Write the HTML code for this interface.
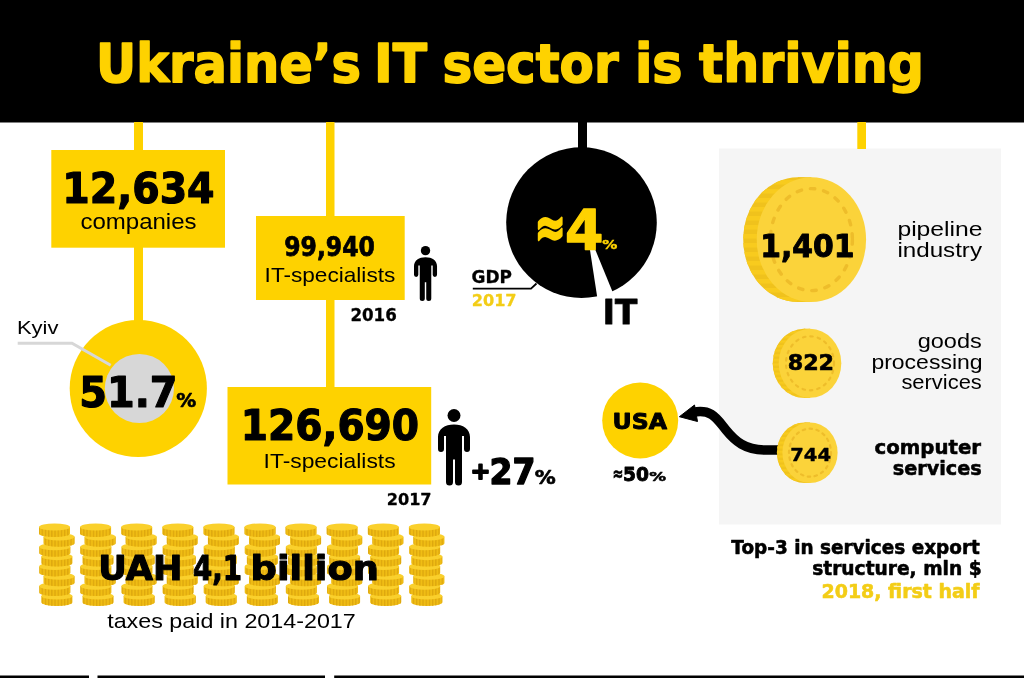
<!DOCTYPE html><html><head><meta charset="utf-8"><title>Ukraine’s IT sector is thriving</title><style>html,body{margin:0;padding:0;background:#fff;width:1024px;height:678px;overflow:hidden}svg{display:block;will-change:transform} text{font-family:'Liberation Sans', sans-serif}</style></head><body>
<svg width="1024" height="678" viewBox="0 0 1024 678">
<defs><pattern id="ridgeV" width="10" height="9" patternUnits="userSpaceOnUse"><rect width="10" height="4.5" fill="#F8CB1E"/></pattern><pattern id="ridgeV2" width="10" height="4.6" patternUnits="userSpaceOnUse"><rect width="10" height="2.3" fill="#F8CB1E"/></pattern><pattern id="ridgeS" width="3.2" height="10" patternUnits="userSpaceOnUse"><rect x="0" width="1.3" height="10" fill="#DDA70E"/></pattern></defs>
<rect width="1024" height="678" fill="#fff"/>
<rect x="719" y="148.5" width="282" height="376" fill="#F5F5F5"/>
<rect x="0" y="0" width="1024" height="122.5" fill="#000"/>
<text x="96.0" y="81.5" font-size="53.79" font-weight="bold" fill="#FED200" style="font-family:'DejaVu Sans','Liberation Sans',sans-serif" textLength="265.0" lengthAdjust="spacingAndGlyphs" stroke="#FED200" stroke-width="1.60" stroke-linejoin="round" paint-order="stroke">Ukraine’s</text>
<text x="374.0" y="81.5" font-size="53.79" font-weight="bold" fill="#FED200" style="font-family:'DejaVu Sans','Liberation Sans',sans-serif" textLength="53.0" lengthAdjust="spacingAndGlyphs" stroke="#FED200" stroke-width="1.60" stroke-linejoin="round" paint-order="stroke">IT</text>
<text x="442.4" y="81.5" font-size="53.79" font-weight="bold" fill="#FED200" style="font-family:'DejaVu Sans','Liberation Sans',sans-serif" textLength="176.2" lengthAdjust="spacingAndGlyphs" stroke="#FED200" stroke-width="1.60" stroke-linejoin="round" paint-order="stroke">sector</text>
<text x="634.9" y="81.5" font-size="53.79" font-weight="bold" fill="#FED200" style="font-family:'DejaVu Sans','Liberation Sans',sans-serif" textLength="47.6" lengthAdjust="spacingAndGlyphs" stroke="#FED200" stroke-width="1.60" stroke-linejoin="round" paint-order="stroke">is</text>
<text x="699.0" y="81.5" font-size="53.79" font-weight="bold" fill="#FED200" style="font-family:'DejaVu Sans','Liberation Sans',sans-serif" textLength="225.0" lengthAdjust="spacingAndGlyphs" stroke="#FED200" stroke-width="1.60" stroke-linejoin="round" paint-order="stroke">thriving</text>
<rect x="134" y="122" width="9" height="230" fill="#FED200"/>
<rect x="326" y="122" width="8.5" height="266" fill="#FED200"/>
<rect x="578" y="121" width="9" height="30" fill="#000"/>
<rect x="857.3" y="122" width="8.7" height="27" fill="#FED200"/>
<rect x="51.3" y="150" width="173.7" height="97.7" fill="#FED200"/>
<text x="62.2" y="202.5" font-size="43.41" font-weight="bold" fill="#000000" style="font-family:'DejaVu Sans','Liberation Sans',sans-serif" textLength="152.4" lengthAdjust="spacingAndGlyphs" stroke="#000000" stroke-width="1.20" stroke-linejoin="round" paint-order="stroke">12,634</text>
<text x="80.4" y="229.4" font-size="21.60" font-weight="normal" fill="#000000" textLength="116.2" lengthAdjust="spacingAndGlyphs">companies</text>
<circle cx="138.3" cy="388.5" r="68.6" fill="#FED200"/>
<circle cx="139.4" cy="388.5" r="34.6" fill="#D7D7D7"/>
<polyline points="17.7,343.2 72,343.2 110.7,365.3" fill="none" stroke="#D7D7D7" stroke-width="3"/>
<text x="16.9" y="333.9" font-size="18.80" font-weight="normal" fill="#000000" textLength="41.6" lengthAdjust="spacingAndGlyphs">Kyiv</text>
<text x="79.3" y="407.3" font-size="42.47" font-weight="bold" fill="#000000" style="font-family:'DejaVu Sans','Liberation Sans',sans-serif" textLength="98.3" lengthAdjust="spacingAndGlyphs" stroke="#000000" stroke-width="1.20" stroke-linejoin="round" paint-order="stroke">51.7</text>
<text x="176.2" y="407.3" font-size="18.88" font-weight="bold" fill="#000000" style="font-family:'DejaVu Sans','Liberation Sans',sans-serif" textLength="20.0" lengthAdjust="spacingAndGlyphs" stroke="#000000" stroke-width="0.60" stroke-linejoin="round" paint-order="stroke">%</text>
<rect x="256" y="216" width="148.7" height="84" fill="#FED200"/>
<text x="284.2" y="255.8" font-size="26.14" font-weight="bold" fill="#000000" style="font-family:'DejaVu Sans','Liberation Sans',sans-serif" textLength="90.8" lengthAdjust="spacingAndGlyphs" stroke="#000000" stroke-width="0.75" stroke-linejoin="round" paint-order="stroke">99,940</text>
<text x="264.6" y="282.4" font-size="21.00" font-weight="normal" fill="#000000" textLength="130.7" lengthAdjust="spacingAndGlyphs">IT-specialists</text>
<g transform="translate(414,246) scale(0.72)" fill="#000"><circle cx="16" cy="6.5" r="6.5"/><path d="M0,40 V28 C0,20 7,15.5 16,15.5 C25,15.5 32,20 32,28 V40 A3,3 0 0 1 26,40 V27 L24,27 V73 A3.5,3.5 0 0 1 17,73 V50.5 H15 V73 A3.5,3.5 0 0 1 8,73 V27 L6,27 V40 A3,3 0 0 1 0,40 Z"/></g>
<text x="350.4" y="321.0" font-size="17.27" font-weight="bold" fill="#000000" style="font-family:'DejaVu Sans','Liberation Sans',sans-serif" textLength="46.4" lengthAdjust="spacingAndGlyphs" stroke="#000000" stroke-width="0.30" stroke-linejoin="round" paint-order="stroke">2016</text>
<rect x="227.5" y="387" width="203.7" height="97.5" fill="#FED200"/>
<text x="240.8" y="440.0" font-size="42.94" font-weight="bold" fill="#000000" style="font-family:'DejaVu Sans','Liberation Sans',sans-serif" textLength="178.3" lengthAdjust="spacingAndGlyphs" stroke="#000000" stroke-width="1.20" stroke-linejoin="round" paint-order="stroke">126,690</text>
<text x="263.6" y="467.5" font-size="21.00" font-weight="normal" fill="#000000" textLength="132.0" lengthAdjust="spacingAndGlyphs">IT-specialists</text>
<g transform="translate(438,409) scale(1.0)" fill="#000"><circle cx="16" cy="6.5" r="6.5"/><path d="M0,40 V28 C0,20 7,15.5 16,15.5 C25,15.5 32,20 32,28 V40 A3,3 0 0 1 26,40 V27 L24,27 V73 A3.5,3.5 0 0 1 17,73 V50.5 H15 V73 A3.5,3.5 0 0 1 8,73 V27 L6,27 V40 A3,3 0 0 1 0,40 Z"/></g>
<text x="470.5" y="479.4" font-size="23.59" font-weight="bold" fill="#000000" style="font-family:'DejaVu Sans','Liberation Sans',sans-serif" textLength="20.0" lengthAdjust="spacingAndGlyphs" stroke="#000000" stroke-width="1.80" stroke-linejoin="round" paint-order="stroke">+</text>
<text x="489.6" y="484.0" font-size="34.92" font-weight="bold" fill="#000000" style="font-family:'DejaVu Sans','Liberation Sans',sans-serif" textLength="45.9" lengthAdjust="spacingAndGlyphs" stroke="#000000" stroke-width="1.40" stroke-linejoin="round" paint-order="stroke">27</text>
<text x="534.8" y="484.0" font-size="19.82" font-weight="bold" fill="#000000" style="font-family:'DejaVu Sans','Liberation Sans',sans-serif" textLength="21.0" lengthAdjust="spacingAndGlyphs" stroke="#000000" stroke-width="0.65" stroke-linejoin="round" paint-order="stroke">%</text>
<text x="386.7" y="505.0" font-size="16.52" font-weight="bold" fill="#000000" style="font-family:'DejaVu Sans','Liberation Sans',sans-serif" textLength="44.9" lengthAdjust="spacingAndGlyphs" stroke="#000000" stroke-width="0.30" stroke-linejoin="round" paint-order="stroke">2017</text>
<circle cx="581.5" cy="222.6" r="75.3" fill="#000"/>
<path d="M589.9,249.5 L595.2,249.5 L620,310 L599.2,310 Z" fill="#fff"/>
<text x="534.7" y="246.2" font-size="54.74" font-weight="bold" fill="#FED200" style="font-family:'DejaVu Sans','Liberation Sans',sans-serif" textLength="30.9" lengthAdjust="spacingAndGlyphs" stroke="#FED200" stroke-width="2.50" stroke-linejoin="round" paint-order="stroke">≈</text>
<text x="565.1" y="248.8" font-size="54.74" font-weight="bold" fill="#FED200" style="font-family:'DejaVu Sans','Liberation Sans',sans-serif" textLength="38.5" lengthAdjust="spacingAndGlyphs" stroke="#FED200" stroke-width="1.30" stroke-linejoin="round" paint-order="stroke">4</text>
<text x="602.3" y="248.8" font-size="12.74" font-weight="bold" fill="#FED200" style="font-family:'DejaVu Sans','Liberation Sans',sans-serif" textLength="15.1" lengthAdjust="spacingAndGlyphs" stroke="#FED200" stroke-width="0.45" stroke-linejoin="round" paint-order="stroke">%</text>
<text x="471.6" y="283.3" font-size="17.18" font-weight="bold" fill="#000000" style="font-family:'DejaVu Sans','Liberation Sans',sans-serif" textLength="40.4" lengthAdjust="spacingAndGlyphs" stroke="#000000" stroke-width="0.30" stroke-linejoin="round" paint-order="stroke">GDP</text>
<polyline points="472.8,288.7 531,288.7 536.5,283.5" fill="none" stroke="#000" stroke-width="1.8"/>
<text x="471.7" y="306.0" font-size="16.04" font-weight="bold" fill="#F3CD16" style="font-family:'DejaVu Sans','Liberation Sans',sans-serif" textLength="44.9" lengthAdjust="spacingAndGlyphs" stroke="#F3CD16" stroke-width="0.30" stroke-linejoin="round" paint-order="stroke">2017</text>
<text x="602.8" y="324.2" font-size="33.98" font-weight="bold" fill="#000000" style="font-family:'DejaVu Sans','Liberation Sans',sans-serif" textLength="34.4" lengthAdjust="spacingAndGlyphs" stroke="#000000" stroke-width="1.00" stroke-linejoin="round" paint-order="stroke">IT</text>
<ellipse cx="797.9" cy="239.6" rx="54.7" ry="62.4" fill="#F0C21C"/>
<ellipse cx="797.9" cy="239.6" rx="54.7" ry="62.4" fill="url(#ridgeV)"/>
<rect x="797.9" y="177.2" width="13.5" height="124.8" fill="#F0C21C"/>
<rect x="797.9" y="177.2" width="13.5" height="124.8" fill="url(#ridgeV)"/>
<ellipse cx="811.4" cy="239.6" rx="54.7" ry="62.4" fill="#FBD33A"/>
<ellipse cx="811.4" cy="239.6" rx="41" ry="51" fill="none" stroke="#EEBD2A" stroke-width="3.4" stroke-dasharray="4.5 9" stroke-linecap="round"/>
<text x="760.3" y="256.7" font-size="32.47" font-weight="bold" fill="#000000" style="font-family:'DejaVu Sans','Liberation Sans',sans-serif" textLength="94.3" lengthAdjust="spacingAndGlyphs" stroke="#000000" stroke-width="1.00" stroke-linejoin="round" paint-order="stroke">1,401</text>
<text x="897.4" y="236.0" font-size="20.80" font-weight="normal" fill="#000000" textLength="85.2" lengthAdjust="spacingAndGlyphs">pipeline</text>
<text x="897.4" y="256.5" font-size="20.80" font-weight="normal" fill="#000000" textLength="84.6" lengthAdjust="spacingAndGlyphs">industry</text>
<ellipse cx="804" cy="363.3" rx="31.3" ry="34.5" fill="#F0C21C"/>
<ellipse cx="804" cy="363.3" rx="31.3" ry="34.5" fill="url(#ridgeV2)"/>
<rect x="804" y="328.8" width="6" height="69.0" fill="#F0C21C"/>
<rect x="804" y="328.8" width="6" height="69.0" fill="url(#ridgeV2)"/>
<ellipse cx="810" cy="363.3" rx="31.3" ry="34.5" fill="#FBD33A"/>
<ellipse cx="810" cy="363.3" rx="24" ry="27" fill="none" stroke="#EEBD2A" stroke-width="2.2" stroke-dasharray="2.5 5" stroke-linecap="round"/>
<text x="787.7" y="369.5" font-size="21.71" font-weight="bold" fill="#000000" style="font-family:'DejaVu Sans','Liberation Sans',sans-serif" textLength="46.4" lengthAdjust="spacingAndGlyphs" stroke="#000000" stroke-width="0.65" stroke-linejoin="round" paint-order="stroke">822</text>
<text x="917.7" y="347.6" font-size="20.80" font-weight="normal" fill="#000000" textLength="64.1" lengthAdjust="spacingAndGlyphs">goods</text>
<text x="871.4" y="368.8" font-size="20.80" font-weight="normal" fill="#000000" textLength="111.2" lengthAdjust="spacingAndGlyphs">processing</text>
<text x="901.4" y="389.3" font-size="20.80" font-weight="normal" fill="#000000" textLength="80.4" lengthAdjust="spacingAndGlyphs">services</text>
<path d="M693,412.3 C712,408.5 717,419 726,430 C735,441 745,450 765,450 H782" fill="none" stroke="#000" stroke-width="9.4"/>
<path d="M679.4,416.7 L694.5,405 L697.5,421.5 Z" fill="#000" stroke="#000" stroke-width="1" stroke-linejoin="round"/>
<ellipse cx="804.5" cy="452.7" rx="27.6" ry="30.3" fill="#F0C21C"/>
<ellipse cx="804.5" cy="452.7" rx="27.6" ry="30.3" fill="url(#ridgeV2)"/>
<rect x="804.5" y="422.4" width="5.5" height="60.6" fill="#F0C21C"/>
<rect x="804.5" y="422.4" width="5.5" height="60.6" fill="url(#ridgeV2)"/>
<ellipse cx="810" cy="452.7" rx="27.6" ry="30.3" fill="#FBD33A"/>
<ellipse cx="810" cy="452.7" rx="21" ry="24" fill="none" stroke="#EEBD2A" stroke-width="2.2" stroke-dasharray="2.5 4.5" stroke-linecap="round"/>
<text x="790.2" y="460.9" font-size="17.93" font-weight="bold" fill="#000000" style="font-family:'DejaVu Sans','Liberation Sans',sans-serif" textLength="40.8" lengthAdjust="spacingAndGlyphs" stroke="#000000" stroke-width="0.40" stroke-linejoin="round" paint-order="stroke">744</text>
<text x="874.5" y="454.4" font-size="19.63" font-weight="bold" fill="#000000" style="font-family:'DejaVu Sans','Liberation Sans',sans-serif" textLength="106.5" lengthAdjust="spacingAndGlyphs" stroke="#000000" stroke-width="0.55" stroke-linejoin="round" paint-order="stroke">computer</text>
<text x="892.7" y="474.9" font-size="19.63" font-weight="bold" fill="#000000" style="font-family:'DejaVu Sans','Liberation Sans',sans-serif" textLength="89.1" lengthAdjust="spacingAndGlyphs" stroke="#000000" stroke-width="0.55" stroke-linejoin="round" paint-order="stroke">services</text>
<circle cx="640.2" cy="420.5" r="38" fill="#FED200"/>
<text x="612.6" y="429.0" font-size="21.99" font-weight="bold" fill="#000000" style="font-family:'DejaVu Sans','Liberation Sans',sans-serif" textLength="54.4" lengthAdjust="spacingAndGlyphs" stroke="#000000" stroke-width="0.95" stroke-linejoin="round" paint-order="stroke">USA</text>
<text x="612.6" y="479.8" font-size="18.88" font-weight="bold" fill="#000000" style="font-family:'DejaVu Sans','Liberation Sans',sans-serif" textLength="10.9" lengthAdjust="spacingAndGlyphs" stroke="#000000" stroke-width="0.60" stroke-linejoin="round" paint-order="stroke">≈</text>
<text x="623.0" y="480.8" font-size="19.16" font-weight="bold" fill="#000000" style="font-family:'DejaVu Sans','Liberation Sans',sans-serif" textLength="26.0" lengthAdjust="spacingAndGlyphs" stroke="#000000" stroke-width="0.85" stroke-linejoin="round" paint-order="stroke">50</text>
<text x="649.2" y="480.8" font-size="12.84" font-weight="bold" fill="#000000" style="font-family:'DejaVu Sans','Liberation Sans',sans-serif" textLength="16.8" lengthAdjust="spacingAndGlyphs" stroke="#000000" stroke-width="0.50" stroke-linejoin="round" paint-order="stroke">%</text>
<text x="731.3" y="553.7" font-size="18.88" font-weight="bold" fill="#000000" style="font-family:'DejaVu Sans','Liberation Sans',sans-serif" textLength="248.5" lengthAdjust="spacingAndGlyphs" stroke="#000000" stroke-width="0.55" stroke-linejoin="round" paint-order="stroke">Top-3 in services export</text>
<text x="812.2" y="574.6" font-size="18.88" font-weight="bold" fill="#000000" style="font-family:'DejaVu Sans','Liberation Sans',sans-serif" textLength="169.4" lengthAdjust="spacingAndGlyphs" stroke="#000000" stroke-width="0.55" stroke-linejoin="round" paint-order="stroke">structure, mln $</text>
<text x="821.5" y="597.7" font-size="18.88" font-weight="bold" fill="#F3CD16" style="font-family:'DejaVu Sans','Liberation Sans',sans-serif" textLength="158.1" lengthAdjust="spacingAndGlyphs" stroke="#F3CD16" stroke-width="0.55" stroke-linejoin="round" paint-order="stroke">2018, first half</text>
<path d="M41.4,595.95 V602.35 A15.5,3.6 0 0 0 72.4,602.35 V595.95 Z" fill="#F0BD14"/>
<path d="M41.4,595.95 V602.35 A15.5,3.6 0 0 0 72.4,602.35 V595.95 Z" fill="url(#ridgeS)"/>
<ellipse cx="56.9" cy="595.95" rx="15.5" ry="3.6" fill="#FAD02C"/>
<path d="M39.3,586.1 V592.5 A15.5,3.6 0 0 0 70.3,592.5 V586.1 Z" fill="#F0BD14"/>
<path d="M39.3,586.1 V592.5 A15.5,3.6 0 0 0 70.3,592.5 V586.1 Z" fill="url(#ridgeS)"/>
<ellipse cx="54.8" cy="586.1" rx="15.5" ry="3.6" fill="#FAD02C"/>
<path d="M43.5,576.25 V582.65 A15.5,3.6 0 0 0 74.5,582.65 V576.25 Z" fill="#F0BD14"/>
<path d="M43.5,576.25 V582.65 A15.5,3.6 0 0 0 74.5,582.65 V576.25 Z" fill="url(#ridgeS)"/>
<ellipse cx="59.0" cy="576.25" rx="15.5" ry="3.6" fill="#FAD02C"/>
<path d="M39.3,566.4 V572.8 A15.5,3.6 0 0 0 70.3,572.8 V566.4 Z" fill="#F0BD14"/>
<path d="M39.3,566.4 V572.8 A15.5,3.6 0 0 0 70.3,572.8 V566.4 Z" fill="url(#ridgeS)"/>
<ellipse cx="54.8" cy="566.4" rx="15.5" ry="3.6" fill="#FAD02C"/>
<path d="M41.4,556.55 V562.9499999999999 A15.5,3.6 0 0 0 72.4,562.9499999999999 V556.55 Z" fill="#F0BD14"/>
<path d="M41.4,556.55 V562.9499999999999 A15.5,3.6 0 0 0 72.4,562.9499999999999 V556.55 Z" fill="url(#ridgeS)"/>
<ellipse cx="56.9" cy="556.55" rx="15.5" ry="3.6" fill="#FAD02C"/>
<path d="M39.3,546.7 V553.1 A15.5,3.6 0 0 0 70.3,553.1 V546.7 Z" fill="#F0BD14"/>
<path d="M39.3,546.7 V553.1 A15.5,3.6 0 0 0 70.3,553.1 V546.7 Z" fill="url(#ridgeS)"/>
<ellipse cx="54.8" cy="546.7" rx="15.5" ry="3.6" fill="#FAD02C"/>
<path d="M43.5,536.85 V543.25 A15.5,3.6 0 0 0 74.5,543.25 V536.85 Z" fill="#F0BD14"/>
<path d="M43.5,536.85 V543.25 A15.5,3.6 0 0 0 74.5,543.25 V536.85 Z" fill="url(#ridgeS)"/>
<ellipse cx="59.0" cy="536.85" rx="15.5" ry="3.6" fill="#FAD02C"/>
<path d="M39.0,527.0 V533.4 A15.5,3.6 0 0 0 70.0,533.4 V527.0 Z" fill="#F0BD14"/>
<path d="M39.0,527.0 V533.4 A15.5,3.6 0 0 0 70.0,533.4 V527.0 Z" fill="url(#ridgeS)"/>
<ellipse cx="54.5" cy="527.0" rx="15.5" ry="3.6" fill="#FAD02C"/>
<path d="M82.5,595.95 V602.35 A15.5,3.6 0 0 0 113.5,602.35 V595.95 Z" fill="#F0BD14"/>
<path d="M82.5,595.95 V602.35 A15.5,3.6 0 0 0 113.5,602.35 V595.95 Z" fill="url(#ridgeS)"/>
<ellipse cx="98.0" cy="595.95" rx="15.5" ry="3.6" fill="#FAD02C"/>
<path d="M80.39999999999999,586.1 V592.5 A15.5,3.6 0 0 0 111.39999999999999,592.5 V586.1 Z" fill="#F0BD14"/>
<path d="M80.39999999999999,586.1 V592.5 A15.5,3.6 0 0 0 111.39999999999999,592.5 V586.1 Z" fill="url(#ridgeS)"/>
<ellipse cx="95.89999999999999" cy="586.1" rx="15.5" ry="3.6" fill="#FAD02C"/>
<path d="M84.6,576.25 V582.65 A15.5,3.6 0 0 0 115.6,582.65 V576.25 Z" fill="#F0BD14"/>
<path d="M84.6,576.25 V582.65 A15.5,3.6 0 0 0 115.6,582.65 V576.25 Z" fill="url(#ridgeS)"/>
<ellipse cx="100.1" cy="576.25" rx="15.5" ry="3.6" fill="#FAD02C"/>
<path d="M80.39999999999999,566.4 V572.8 A15.5,3.6 0 0 0 111.39999999999999,572.8 V566.4 Z" fill="#F0BD14"/>
<path d="M80.39999999999999,566.4 V572.8 A15.5,3.6 0 0 0 111.39999999999999,572.8 V566.4 Z" fill="url(#ridgeS)"/>
<ellipse cx="95.89999999999999" cy="566.4" rx="15.5" ry="3.6" fill="#FAD02C"/>
<path d="M82.5,556.55 V562.9499999999999 A15.5,3.6 0 0 0 113.5,562.9499999999999 V556.55 Z" fill="#F0BD14"/>
<path d="M82.5,556.55 V562.9499999999999 A15.5,3.6 0 0 0 113.5,562.9499999999999 V556.55 Z" fill="url(#ridgeS)"/>
<ellipse cx="98.0" cy="556.55" rx="15.5" ry="3.6" fill="#FAD02C"/>
<path d="M80.39999999999999,546.7 V553.1 A15.5,3.6 0 0 0 111.39999999999999,553.1 V546.7 Z" fill="#F0BD14"/>
<path d="M80.39999999999999,546.7 V553.1 A15.5,3.6 0 0 0 111.39999999999999,553.1 V546.7 Z" fill="url(#ridgeS)"/>
<ellipse cx="95.89999999999999" cy="546.7" rx="15.5" ry="3.6" fill="#FAD02C"/>
<path d="M84.6,536.85 V543.25 A15.5,3.6 0 0 0 115.6,543.25 V536.85 Z" fill="#F0BD14"/>
<path d="M84.6,536.85 V543.25 A15.5,3.6 0 0 0 115.6,543.25 V536.85 Z" fill="url(#ridgeS)"/>
<ellipse cx="100.1" cy="536.85" rx="15.5" ry="3.6" fill="#FAD02C"/>
<path d="M80.1,527.0 V533.4 A15.5,3.6 0 0 0 111.1,533.4 V527.0 Z" fill="#F0BD14"/>
<path d="M80.1,527.0 V533.4 A15.5,3.6 0 0 0 111.1,533.4 V527.0 Z" fill="url(#ridgeS)"/>
<ellipse cx="95.6" cy="527.0" rx="15.5" ry="3.6" fill="#FAD02C"/>
<path d="M123.60000000000001,595.95 V602.35 A15.5,3.6 0 0 0 154.60000000000002,602.35 V595.95 Z" fill="#F0BD14"/>
<path d="M123.60000000000001,595.95 V602.35 A15.5,3.6 0 0 0 154.60000000000002,602.35 V595.95 Z" fill="url(#ridgeS)"/>
<ellipse cx="139.10000000000002" cy="595.95" rx="15.5" ry="3.6" fill="#FAD02C"/>
<path d="M121.5,586.1 V592.5 A15.5,3.6 0 0 0 152.5,592.5 V586.1 Z" fill="#F0BD14"/>
<path d="M121.5,586.1 V592.5 A15.5,3.6 0 0 0 152.5,592.5 V586.1 Z" fill="url(#ridgeS)"/>
<ellipse cx="137.0" cy="586.1" rx="15.5" ry="3.6" fill="#FAD02C"/>
<path d="M125.7,576.25 V582.65 A15.5,3.6 0 0 0 156.7,582.65 V576.25 Z" fill="#F0BD14"/>
<path d="M125.7,576.25 V582.65 A15.5,3.6 0 0 0 156.7,582.65 V576.25 Z" fill="url(#ridgeS)"/>
<ellipse cx="141.2" cy="576.25" rx="15.5" ry="3.6" fill="#FAD02C"/>
<path d="M121.5,566.4 V572.8 A15.5,3.6 0 0 0 152.5,572.8 V566.4 Z" fill="#F0BD14"/>
<path d="M121.5,566.4 V572.8 A15.5,3.6 0 0 0 152.5,572.8 V566.4 Z" fill="url(#ridgeS)"/>
<ellipse cx="137.0" cy="566.4" rx="15.5" ry="3.6" fill="#FAD02C"/>
<path d="M123.60000000000001,556.55 V562.9499999999999 A15.5,3.6 0 0 0 154.60000000000002,562.9499999999999 V556.55 Z" fill="#F0BD14"/>
<path d="M123.60000000000001,556.55 V562.9499999999999 A15.5,3.6 0 0 0 154.60000000000002,562.9499999999999 V556.55 Z" fill="url(#ridgeS)"/>
<ellipse cx="139.10000000000002" cy="556.55" rx="15.5" ry="3.6" fill="#FAD02C"/>
<path d="M121.5,546.7 V553.1 A15.5,3.6 0 0 0 152.5,553.1 V546.7 Z" fill="#F0BD14"/>
<path d="M121.5,546.7 V553.1 A15.5,3.6 0 0 0 152.5,553.1 V546.7 Z" fill="url(#ridgeS)"/>
<ellipse cx="137.0" cy="546.7" rx="15.5" ry="3.6" fill="#FAD02C"/>
<path d="M125.7,536.85 V543.25 A15.5,3.6 0 0 0 156.7,543.25 V536.85 Z" fill="#F0BD14"/>
<path d="M125.7,536.85 V543.25 A15.5,3.6 0 0 0 156.7,543.25 V536.85 Z" fill="url(#ridgeS)"/>
<ellipse cx="141.2" cy="536.85" rx="15.5" ry="3.6" fill="#FAD02C"/>
<path d="M121.2,527.0 V533.4 A15.5,3.6 0 0 0 152.2,533.4 V527.0 Z" fill="#F0BD14"/>
<path d="M121.2,527.0 V533.4 A15.5,3.6 0 0 0 152.2,533.4 V527.0 Z" fill="url(#ridgeS)"/>
<ellipse cx="136.7" cy="527.0" rx="15.5" ry="3.6" fill="#FAD02C"/>
<path d="M164.70000000000002,595.95 V602.35 A15.5,3.6 0 0 0 195.70000000000002,602.35 V595.95 Z" fill="#F0BD14"/>
<path d="M164.70000000000002,595.95 V602.35 A15.5,3.6 0 0 0 195.70000000000002,602.35 V595.95 Z" fill="url(#ridgeS)"/>
<ellipse cx="180.20000000000002" cy="595.95" rx="15.5" ry="3.6" fill="#FAD02C"/>
<path d="M162.60000000000002,586.1 V592.5 A15.5,3.6 0 0 0 193.60000000000002,592.5 V586.1 Z" fill="#F0BD14"/>
<path d="M162.60000000000002,586.1 V592.5 A15.5,3.6 0 0 0 193.60000000000002,592.5 V586.1 Z" fill="url(#ridgeS)"/>
<ellipse cx="178.10000000000002" cy="586.1" rx="15.5" ry="3.6" fill="#FAD02C"/>
<path d="M166.8,576.25 V582.65 A15.5,3.6 0 0 0 197.8,582.65 V576.25 Z" fill="#F0BD14"/>
<path d="M166.8,576.25 V582.65 A15.5,3.6 0 0 0 197.8,582.65 V576.25 Z" fill="url(#ridgeS)"/>
<ellipse cx="182.3" cy="576.25" rx="15.5" ry="3.6" fill="#FAD02C"/>
<path d="M162.60000000000002,566.4 V572.8 A15.5,3.6 0 0 0 193.60000000000002,572.8 V566.4 Z" fill="#F0BD14"/>
<path d="M162.60000000000002,566.4 V572.8 A15.5,3.6 0 0 0 193.60000000000002,572.8 V566.4 Z" fill="url(#ridgeS)"/>
<ellipse cx="178.10000000000002" cy="566.4" rx="15.5" ry="3.6" fill="#FAD02C"/>
<path d="M164.70000000000002,556.55 V562.9499999999999 A15.5,3.6 0 0 0 195.70000000000002,562.9499999999999 V556.55 Z" fill="#F0BD14"/>
<path d="M164.70000000000002,556.55 V562.9499999999999 A15.5,3.6 0 0 0 195.70000000000002,562.9499999999999 V556.55 Z" fill="url(#ridgeS)"/>
<ellipse cx="180.20000000000002" cy="556.55" rx="15.5" ry="3.6" fill="#FAD02C"/>
<path d="M162.60000000000002,546.7 V553.1 A15.5,3.6 0 0 0 193.60000000000002,553.1 V546.7 Z" fill="#F0BD14"/>
<path d="M162.60000000000002,546.7 V553.1 A15.5,3.6 0 0 0 193.60000000000002,553.1 V546.7 Z" fill="url(#ridgeS)"/>
<ellipse cx="178.10000000000002" cy="546.7" rx="15.5" ry="3.6" fill="#FAD02C"/>
<path d="M166.8,536.85 V543.25 A15.5,3.6 0 0 0 197.8,543.25 V536.85 Z" fill="#F0BD14"/>
<path d="M166.8,536.85 V543.25 A15.5,3.6 0 0 0 197.8,543.25 V536.85 Z" fill="url(#ridgeS)"/>
<ellipse cx="182.3" cy="536.85" rx="15.5" ry="3.6" fill="#FAD02C"/>
<path d="M162.3,527.0 V533.4 A15.5,3.6 0 0 0 193.3,533.4 V527.0 Z" fill="#F0BD14"/>
<path d="M162.3,527.0 V533.4 A15.5,3.6 0 0 0 193.3,533.4 V527.0 Z" fill="url(#ridgeS)"/>
<ellipse cx="177.8" cy="527.0" rx="15.5" ry="3.6" fill="#FAD02C"/>
<path d="M205.8,595.95 V602.35 A15.5,3.6 0 0 0 236.8,602.35 V595.95 Z" fill="#F0BD14"/>
<path d="M205.8,595.95 V602.35 A15.5,3.6 0 0 0 236.8,602.35 V595.95 Z" fill="url(#ridgeS)"/>
<ellipse cx="221.3" cy="595.95" rx="15.5" ry="3.6" fill="#FAD02C"/>
<path d="M203.70000000000002,586.1 V592.5 A15.5,3.6 0 0 0 234.70000000000002,592.5 V586.1 Z" fill="#F0BD14"/>
<path d="M203.70000000000002,586.1 V592.5 A15.5,3.6 0 0 0 234.70000000000002,592.5 V586.1 Z" fill="url(#ridgeS)"/>
<ellipse cx="219.20000000000002" cy="586.1" rx="15.5" ry="3.6" fill="#FAD02C"/>
<path d="M207.9,576.25 V582.65 A15.5,3.6 0 0 0 238.9,582.65 V576.25 Z" fill="#F0BD14"/>
<path d="M207.9,576.25 V582.65 A15.5,3.6 0 0 0 238.9,582.65 V576.25 Z" fill="url(#ridgeS)"/>
<ellipse cx="223.4" cy="576.25" rx="15.5" ry="3.6" fill="#FAD02C"/>
<path d="M203.70000000000002,566.4 V572.8 A15.5,3.6 0 0 0 234.70000000000002,572.8 V566.4 Z" fill="#F0BD14"/>
<path d="M203.70000000000002,566.4 V572.8 A15.5,3.6 0 0 0 234.70000000000002,572.8 V566.4 Z" fill="url(#ridgeS)"/>
<ellipse cx="219.20000000000002" cy="566.4" rx="15.5" ry="3.6" fill="#FAD02C"/>
<path d="M205.8,556.55 V562.9499999999999 A15.5,3.6 0 0 0 236.8,562.9499999999999 V556.55 Z" fill="#F0BD14"/>
<path d="M205.8,556.55 V562.9499999999999 A15.5,3.6 0 0 0 236.8,562.9499999999999 V556.55 Z" fill="url(#ridgeS)"/>
<ellipse cx="221.3" cy="556.55" rx="15.5" ry="3.6" fill="#FAD02C"/>
<path d="M203.70000000000002,546.7 V553.1 A15.5,3.6 0 0 0 234.70000000000002,553.1 V546.7 Z" fill="#F0BD14"/>
<path d="M203.70000000000002,546.7 V553.1 A15.5,3.6 0 0 0 234.70000000000002,553.1 V546.7 Z" fill="url(#ridgeS)"/>
<ellipse cx="219.20000000000002" cy="546.7" rx="15.5" ry="3.6" fill="#FAD02C"/>
<path d="M207.9,536.85 V543.25 A15.5,3.6 0 0 0 238.9,543.25 V536.85 Z" fill="#F0BD14"/>
<path d="M207.9,536.85 V543.25 A15.5,3.6 0 0 0 238.9,543.25 V536.85 Z" fill="url(#ridgeS)"/>
<ellipse cx="223.4" cy="536.85" rx="15.5" ry="3.6" fill="#FAD02C"/>
<path d="M203.4,527.0 V533.4 A15.5,3.6 0 0 0 234.4,533.4 V527.0 Z" fill="#F0BD14"/>
<path d="M203.4,527.0 V533.4 A15.5,3.6 0 0 0 234.4,533.4 V527.0 Z" fill="url(#ridgeS)"/>
<ellipse cx="218.9" cy="527.0" rx="15.5" ry="3.6" fill="#FAD02C"/>
<path d="M246.9,595.95 V602.35 A15.5,3.6 0 0 0 277.9,602.35 V595.95 Z" fill="#F0BD14"/>
<path d="M246.9,595.95 V602.35 A15.5,3.6 0 0 0 277.9,602.35 V595.95 Z" fill="url(#ridgeS)"/>
<ellipse cx="262.4" cy="595.95" rx="15.5" ry="3.6" fill="#FAD02C"/>
<path d="M244.8,586.1 V592.5 A15.5,3.6 0 0 0 275.8,592.5 V586.1 Z" fill="#F0BD14"/>
<path d="M244.8,586.1 V592.5 A15.5,3.6 0 0 0 275.8,592.5 V586.1 Z" fill="url(#ridgeS)"/>
<ellipse cx="260.3" cy="586.1" rx="15.5" ry="3.6" fill="#FAD02C"/>
<path d="M249.0,576.25 V582.65 A15.5,3.6 0 0 0 280.0,582.65 V576.25 Z" fill="#F0BD14"/>
<path d="M249.0,576.25 V582.65 A15.5,3.6 0 0 0 280.0,582.65 V576.25 Z" fill="url(#ridgeS)"/>
<ellipse cx="264.5" cy="576.25" rx="15.5" ry="3.6" fill="#FAD02C"/>
<path d="M244.8,566.4 V572.8 A15.5,3.6 0 0 0 275.8,572.8 V566.4 Z" fill="#F0BD14"/>
<path d="M244.8,566.4 V572.8 A15.5,3.6 0 0 0 275.8,572.8 V566.4 Z" fill="url(#ridgeS)"/>
<ellipse cx="260.3" cy="566.4" rx="15.5" ry="3.6" fill="#FAD02C"/>
<path d="M246.9,556.55 V562.9499999999999 A15.5,3.6 0 0 0 277.9,562.9499999999999 V556.55 Z" fill="#F0BD14"/>
<path d="M246.9,556.55 V562.9499999999999 A15.5,3.6 0 0 0 277.9,562.9499999999999 V556.55 Z" fill="url(#ridgeS)"/>
<ellipse cx="262.4" cy="556.55" rx="15.5" ry="3.6" fill="#FAD02C"/>
<path d="M244.8,546.7 V553.1 A15.5,3.6 0 0 0 275.8,553.1 V546.7 Z" fill="#F0BD14"/>
<path d="M244.8,546.7 V553.1 A15.5,3.6 0 0 0 275.8,553.1 V546.7 Z" fill="url(#ridgeS)"/>
<ellipse cx="260.3" cy="546.7" rx="15.5" ry="3.6" fill="#FAD02C"/>
<path d="M249.0,536.85 V543.25 A15.5,3.6 0 0 0 280.0,543.25 V536.85 Z" fill="#F0BD14"/>
<path d="M249.0,536.85 V543.25 A15.5,3.6 0 0 0 280.0,543.25 V536.85 Z" fill="url(#ridgeS)"/>
<ellipse cx="264.5" cy="536.85" rx="15.5" ry="3.6" fill="#FAD02C"/>
<path d="M244.5,527.0 V533.4 A15.5,3.6 0 0 0 275.5,533.4 V527.0 Z" fill="#F0BD14"/>
<path d="M244.5,527.0 V533.4 A15.5,3.6 0 0 0 275.5,533.4 V527.0 Z" fill="url(#ridgeS)"/>
<ellipse cx="260.0" cy="527.0" rx="15.5" ry="3.6" fill="#FAD02C"/>
<path d="M288.0,595.95 V602.35 A15.5,3.6 0 0 0 319.0,602.35 V595.95 Z" fill="#F0BD14"/>
<path d="M288.0,595.95 V602.35 A15.5,3.6 0 0 0 319.0,602.35 V595.95 Z" fill="url(#ridgeS)"/>
<ellipse cx="303.5" cy="595.95" rx="15.5" ry="3.6" fill="#FAD02C"/>
<path d="M285.90000000000003,586.1 V592.5 A15.5,3.6 0 0 0 316.90000000000003,592.5 V586.1 Z" fill="#F0BD14"/>
<path d="M285.90000000000003,586.1 V592.5 A15.5,3.6 0 0 0 316.90000000000003,592.5 V586.1 Z" fill="url(#ridgeS)"/>
<ellipse cx="301.40000000000003" cy="586.1" rx="15.5" ry="3.6" fill="#FAD02C"/>
<path d="M290.1,576.25 V582.65 A15.5,3.6 0 0 0 321.1,582.65 V576.25 Z" fill="#F0BD14"/>
<path d="M290.1,576.25 V582.65 A15.5,3.6 0 0 0 321.1,582.65 V576.25 Z" fill="url(#ridgeS)"/>
<ellipse cx="305.6" cy="576.25" rx="15.5" ry="3.6" fill="#FAD02C"/>
<path d="M285.90000000000003,566.4 V572.8 A15.5,3.6 0 0 0 316.90000000000003,572.8 V566.4 Z" fill="#F0BD14"/>
<path d="M285.90000000000003,566.4 V572.8 A15.5,3.6 0 0 0 316.90000000000003,572.8 V566.4 Z" fill="url(#ridgeS)"/>
<ellipse cx="301.40000000000003" cy="566.4" rx="15.5" ry="3.6" fill="#FAD02C"/>
<path d="M288.0,556.55 V562.9499999999999 A15.5,3.6 0 0 0 319.0,562.9499999999999 V556.55 Z" fill="#F0BD14"/>
<path d="M288.0,556.55 V562.9499999999999 A15.5,3.6 0 0 0 319.0,562.9499999999999 V556.55 Z" fill="url(#ridgeS)"/>
<ellipse cx="303.5" cy="556.55" rx="15.5" ry="3.6" fill="#FAD02C"/>
<path d="M285.90000000000003,546.7 V553.1 A15.5,3.6 0 0 0 316.90000000000003,553.1 V546.7 Z" fill="#F0BD14"/>
<path d="M285.90000000000003,546.7 V553.1 A15.5,3.6 0 0 0 316.90000000000003,553.1 V546.7 Z" fill="url(#ridgeS)"/>
<ellipse cx="301.40000000000003" cy="546.7" rx="15.5" ry="3.6" fill="#FAD02C"/>
<path d="M290.1,536.85 V543.25 A15.5,3.6 0 0 0 321.1,543.25 V536.85 Z" fill="#F0BD14"/>
<path d="M290.1,536.85 V543.25 A15.5,3.6 0 0 0 321.1,543.25 V536.85 Z" fill="url(#ridgeS)"/>
<ellipse cx="305.6" cy="536.85" rx="15.5" ry="3.6" fill="#FAD02C"/>
<path d="M285.6,527.0 V533.4 A15.5,3.6 0 0 0 316.6,533.4 V527.0 Z" fill="#F0BD14"/>
<path d="M285.6,527.0 V533.4 A15.5,3.6 0 0 0 316.6,533.4 V527.0 Z" fill="url(#ridgeS)"/>
<ellipse cx="301.1" cy="527.0" rx="15.5" ry="3.6" fill="#FAD02C"/>
<path d="M329.09999999999997,595.95 V602.35 A15.5,3.6 0 0 0 360.09999999999997,602.35 V595.95 Z" fill="#F0BD14"/>
<path d="M329.09999999999997,595.95 V602.35 A15.5,3.6 0 0 0 360.09999999999997,602.35 V595.95 Z" fill="url(#ridgeS)"/>
<ellipse cx="344.59999999999997" cy="595.95" rx="15.5" ry="3.6" fill="#FAD02C"/>
<path d="M327.0,586.1 V592.5 A15.5,3.6 0 0 0 358.0,592.5 V586.1 Z" fill="#F0BD14"/>
<path d="M327.0,586.1 V592.5 A15.5,3.6 0 0 0 358.0,592.5 V586.1 Z" fill="url(#ridgeS)"/>
<ellipse cx="342.5" cy="586.1" rx="15.5" ry="3.6" fill="#FAD02C"/>
<path d="M331.2,576.25 V582.65 A15.5,3.6 0 0 0 362.2,582.65 V576.25 Z" fill="#F0BD14"/>
<path d="M331.2,576.25 V582.65 A15.5,3.6 0 0 0 362.2,582.65 V576.25 Z" fill="url(#ridgeS)"/>
<ellipse cx="346.7" cy="576.25" rx="15.5" ry="3.6" fill="#FAD02C"/>
<path d="M327.0,566.4 V572.8 A15.5,3.6 0 0 0 358.0,572.8 V566.4 Z" fill="#F0BD14"/>
<path d="M327.0,566.4 V572.8 A15.5,3.6 0 0 0 358.0,572.8 V566.4 Z" fill="url(#ridgeS)"/>
<ellipse cx="342.5" cy="566.4" rx="15.5" ry="3.6" fill="#FAD02C"/>
<path d="M329.09999999999997,556.55 V562.9499999999999 A15.5,3.6 0 0 0 360.09999999999997,562.9499999999999 V556.55 Z" fill="#F0BD14"/>
<path d="M329.09999999999997,556.55 V562.9499999999999 A15.5,3.6 0 0 0 360.09999999999997,562.9499999999999 V556.55 Z" fill="url(#ridgeS)"/>
<ellipse cx="344.59999999999997" cy="556.55" rx="15.5" ry="3.6" fill="#FAD02C"/>
<path d="M327.0,546.7 V553.1 A15.5,3.6 0 0 0 358.0,553.1 V546.7 Z" fill="#F0BD14"/>
<path d="M327.0,546.7 V553.1 A15.5,3.6 0 0 0 358.0,553.1 V546.7 Z" fill="url(#ridgeS)"/>
<ellipse cx="342.5" cy="546.7" rx="15.5" ry="3.6" fill="#FAD02C"/>
<path d="M331.2,536.85 V543.25 A15.5,3.6 0 0 0 362.2,543.25 V536.85 Z" fill="#F0BD14"/>
<path d="M331.2,536.85 V543.25 A15.5,3.6 0 0 0 362.2,543.25 V536.85 Z" fill="url(#ridgeS)"/>
<ellipse cx="346.7" cy="536.85" rx="15.5" ry="3.6" fill="#FAD02C"/>
<path d="M326.7,527.0 V533.4 A15.5,3.6 0 0 0 357.7,533.4 V527.0 Z" fill="#F0BD14"/>
<path d="M326.7,527.0 V533.4 A15.5,3.6 0 0 0 357.7,533.4 V527.0 Z" fill="url(#ridgeS)"/>
<ellipse cx="342.2" cy="527.0" rx="15.5" ry="3.6" fill="#FAD02C"/>
<path d="M370.2,595.95 V602.35 A15.5,3.6 0 0 0 401.2,602.35 V595.95 Z" fill="#F0BD14"/>
<path d="M370.2,595.95 V602.35 A15.5,3.6 0 0 0 401.2,602.35 V595.95 Z" fill="url(#ridgeS)"/>
<ellipse cx="385.7" cy="595.95" rx="15.5" ry="3.6" fill="#FAD02C"/>
<path d="M368.1,586.1 V592.5 A15.5,3.6 0 0 0 399.1,592.5 V586.1 Z" fill="#F0BD14"/>
<path d="M368.1,586.1 V592.5 A15.5,3.6 0 0 0 399.1,592.5 V586.1 Z" fill="url(#ridgeS)"/>
<ellipse cx="383.6" cy="586.1" rx="15.5" ry="3.6" fill="#FAD02C"/>
<path d="M372.3,576.25 V582.65 A15.5,3.6 0 0 0 403.3,582.65 V576.25 Z" fill="#F0BD14"/>
<path d="M372.3,576.25 V582.65 A15.5,3.6 0 0 0 403.3,582.65 V576.25 Z" fill="url(#ridgeS)"/>
<ellipse cx="387.8" cy="576.25" rx="15.5" ry="3.6" fill="#FAD02C"/>
<path d="M368.1,566.4 V572.8 A15.5,3.6 0 0 0 399.1,572.8 V566.4 Z" fill="#F0BD14"/>
<path d="M368.1,566.4 V572.8 A15.5,3.6 0 0 0 399.1,572.8 V566.4 Z" fill="url(#ridgeS)"/>
<ellipse cx="383.6" cy="566.4" rx="15.5" ry="3.6" fill="#FAD02C"/>
<path d="M370.2,556.55 V562.9499999999999 A15.5,3.6 0 0 0 401.2,562.9499999999999 V556.55 Z" fill="#F0BD14"/>
<path d="M370.2,556.55 V562.9499999999999 A15.5,3.6 0 0 0 401.2,562.9499999999999 V556.55 Z" fill="url(#ridgeS)"/>
<ellipse cx="385.7" cy="556.55" rx="15.5" ry="3.6" fill="#FAD02C"/>
<path d="M368.1,546.7 V553.1 A15.5,3.6 0 0 0 399.1,553.1 V546.7 Z" fill="#F0BD14"/>
<path d="M368.1,546.7 V553.1 A15.5,3.6 0 0 0 399.1,553.1 V546.7 Z" fill="url(#ridgeS)"/>
<ellipse cx="383.6" cy="546.7" rx="15.5" ry="3.6" fill="#FAD02C"/>
<path d="M372.3,536.85 V543.25 A15.5,3.6 0 0 0 403.3,543.25 V536.85 Z" fill="#F0BD14"/>
<path d="M372.3,536.85 V543.25 A15.5,3.6 0 0 0 403.3,543.25 V536.85 Z" fill="url(#ridgeS)"/>
<ellipse cx="387.8" cy="536.85" rx="15.5" ry="3.6" fill="#FAD02C"/>
<path d="M367.8,527.0 V533.4 A15.5,3.6 0 0 0 398.8,533.4 V527.0 Z" fill="#F0BD14"/>
<path d="M367.8,527.0 V533.4 A15.5,3.6 0 0 0 398.8,533.4 V527.0 Z" fill="url(#ridgeS)"/>
<ellipse cx="383.3" cy="527.0" rx="15.5" ry="3.6" fill="#FAD02C"/>
<path d="M411.3,595.95 V602.35 A15.5,3.6 0 0 0 442.3,602.35 V595.95 Z" fill="#F0BD14"/>
<path d="M411.3,595.95 V602.35 A15.5,3.6 0 0 0 442.3,602.35 V595.95 Z" fill="url(#ridgeS)"/>
<ellipse cx="426.8" cy="595.95" rx="15.5" ry="3.6" fill="#FAD02C"/>
<path d="M409.20000000000005,586.1 V592.5 A15.5,3.6 0 0 0 440.20000000000005,592.5 V586.1 Z" fill="#F0BD14"/>
<path d="M409.20000000000005,586.1 V592.5 A15.5,3.6 0 0 0 440.20000000000005,592.5 V586.1 Z" fill="url(#ridgeS)"/>
<ellipse cx="424.70000000000005" cy="586.1" rx="15.5" ry="3.6" fill="#FAD02C"/>
<path d="M413.40000000000003,576.25 V582.65 A15.5,3.6 0 0 0 444.40000000000003,582.65 V576.25 Z" fill="#F0BD14"/>
<path d="M413.40000000000003,576.25 V582.65 A15.5,3.6 0 0 0 444.40000000000003,582.65 V576.25 Z" fill="url(#ridgeS)"/>
<ellipse cx="428.90000000000003" cy="576.25" rx="15.5" ry="3.6" fill="#FAD02C"/>
<path d="M409.20000000000005,566.4 V572.8 A15.5,3.6 0 0 0 440.20000000000005,572.8 V566.4 Z" fill="#F0BD14"/>
<path d="M409.20000000000005,566.4 V572.8 A15.5,3.6 0 0 0 440.20000000000005,572.8 V566.4 Z" fill="url(#ridgeS)"/>
<ellipse cx="424.70000000000005" cy="566.4" rx="15.5" ry="3.6" fill="#FAD02C"/>
<path d="M411.3,556.55 V562.9499999999999 A15.5,3.6 0 0 0 442.3,562.9499999999999 V556.55 Z" fill="#F0BD14"/>
<path d="M411.3,556.55 V562.9499999999999 A15.5,3.6 0 0 0 442.3,562.9499999999999 V556.55 Z" fill="url(#ridgeS)"/>
<ellipse cx="426.8" cy="556.55" rx="15.5" ry="3.6" fill="#FAD02C"/>
<path d="M409.20000000000005,546.7 V553.1 A15.5,3.6 0 0 0 440.20000000000005,553.1 V546.7 Z" fill="#F0BD14"/>
<path d="M409.20000000000005,546.7 V553.1 A15.5,3.6 0 0 0 440.20000000000005,553.1 V546.7 Z" fill="url(#ridgeS)"/>
<ellipse cx="424.70000000000005" cy="546.7" rx="15.5" ry="3.6" fill="#FAD02C"/>
<path d="M413.40000000000003,536.85 V543.25 A15.5,3.6 0 0 0 444.40000000000003,543.25 V536.85 Z" fill="#F0BD14"/>
<path d="M413.40000000000003,536.85 V543.25 A15.5,3.6 0 0 0 444.40000000000003,543.25 V536.85 Z" fill="url(#ridgeS)"/>
<ellipse cx="428.90000000000003" cy="536.85" rx="15.5" ry="3.6" fill="#FAD02C"/>
<path d="M408.90000000000003,527.0 V533.4 A15.5,3.6 0 0 0 439.90000000000003,533.4 V527.0 Z" fill="#F0BD14"/>
<path d="M408.90000000000003,527.0 V533.4 A15.5,3.6 0 0 0 439.90000000000003,533.4 V527.0 Z" fill="url(#ridgeS)"/>
<ellipse cx="424.40000000000003" cy="527.0" rx="15.5" ry="3.6" fill="#FAD02C"/>
<text x="98.2" y="580.0" font-size="33.60" font-weight="bold" fill="#000000" style="font-family:'DejaVu Sans','Liberation Sans',sans-serif" textLength="84.2" lengthAdjust="spacingAndGlyphs" stroke="#000000" stroke-width="1.10" stroke-linejoin="round" paint-order="stroke">UAH</text>
<text x="193.1" y="580.0" font-size="33.60" font-weight="bold" fill="#000000" style="font-family:'DejaVu Sans','Liberation Sans',sans-serif" textLength="49.0" lengthAdjust="spacingAndGlyphs" stroke="#000000" stroke-width="1.10" stroke-linejoin="round" paint-order="stroke">4,1</text>
<text x="250.6" y="580.0" font-size="33.60" font-weight="bold" fill="#000000" style="font-family:'DejaVu Sans','Liberation Sans',sans-serif" textLength="128.3" lengthAdjust="spacingAndGlyphs" stroke="#000000" stroke-width="1.10" stroke-linejoin="round" paint-order="stroke">billion</text>
<text x="107.2" y="627.8" font-size="20.60" font-weight="normal" fill="#000000" textLength="248.6" lengthAdjust="spacingAndGlyphs">taxes paid in 2014-2017</text>
<rect x="0" y="675.5" width="89" height="3" fill="#000"/>
<rect x="97.5" y="675.5" width="227.5" height="3" fill="#000"/>
<rect x="334.2" y="675.5" width="690" height="3" fill="#000"/>
</svg></body></html>
